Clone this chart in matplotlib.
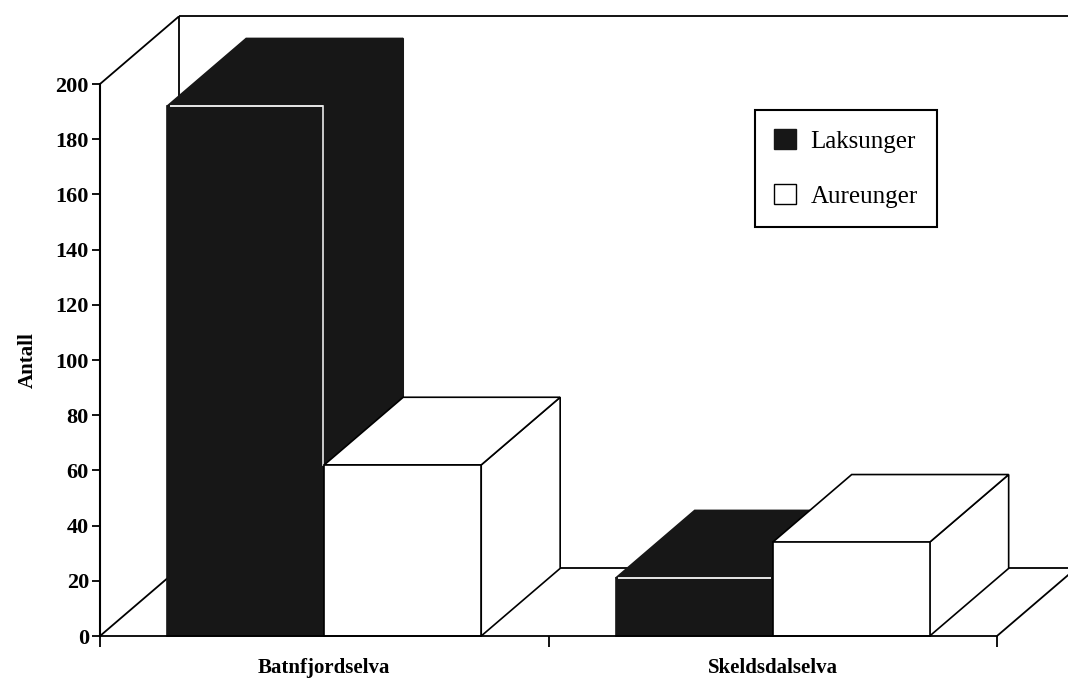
import matplotlib
matplotlib.use('Agg')
import matplotlib.pyplot as plt
from matplotlib.patches import Polygon, Rectangle, Patch

# counts of juvenile fish per river
categories = ['Batnfjordselva', 'Skeldsdalselva']
series = ['Laksunger', 'Aureunger']
laksunger = [192, 21]
aureunger = [62, 34]
yticks = list(range(0, 201, 20))

plt.rcParams['font.family'] = ['Liberation Serif', 'DejaVu Serif']
plt.rcParams['font.weight'] = 'bold'

dark = '#171717'
dx = 0.176     # depth offset, category units
dy = 24.5      # depth offset, value units
bw = 0.35      # bar width
ytop = 200

fig = plt.figure(figsize=(10.68, 6.81), dpi=100)
ax = fig.add_axes([100/1068, 45/681, 897/1068, 552/681])
ax.set_xlim(0, len(categories))
ax.set_ylim(0, ytop)


def seg(xs, ys, color='black', lw=1.3, z=1):
    ax.plot(xs, ys, color=color, lw=lw, clip_on=False,
            solid_capstyle='butt', zorder=z)


# side wall, back wall and floor outline
n = len(categories)
seg([0, dx], [ytop, ytop + dy])
seg([dx, dx], [dy, ytop + dy])
seg([dx, n + dx + 0.2], [ytop + dy, ytop + dy])
seg([0, dx], [0, dy])
seg([dx, n + dx], [dy, dy])
seg([n, n + dx], [0, dy])


def bar3d(x0, x1, h, face, edge, z):
    side = Polygon([(x1, 0), (x1 + dx, dy), (x1 + dx, h + dy), (x1, h)])
    top = Polygon([(x0, h), (x1, h), (x1 + dx, h + dy), (x0 + dx, h + dy)])
    front = Rectangle((x0, 0), x1 - x0, h)
    for p in (side, top, front):
        p.set_facecolor(face)
        p.set_edgecolor(edge)
        p.set_linewidth(1.2)
        p.set_clip_on(False)
        p.set_zorder(z)
        ax.add_patch(p)


z = 2
for i, cat in enumerate(categories):
    c = i + 0.5
    # salmon bar (dark) then trout bar (white) to its right
    h = laksunger[i]
    bar3d(c - bw, c, h, dark, dark, z)
    ax.plot([c - bw + 0.008, c - 0.006], [h, h], color='#e8e8e8', lw=1.4,
            clip_on=False, zorder=z + 0.5)
    if h > aureunger[i]:
        ax.plot([c - 0.003, c - 0.003], [h, aureunger[i]], color='#e8e8e8',
                lw=1.2, clip_on=False, zorder=z + 0.5)
    z += 1
    bar3d(c, c + bw, aureunger[i], 'white', 'black', z)
    z += 1

for s in ('top', 'right'):
    ax.spines[s].set_visible(False)
ax.spines['left'].set_linewidth(1.5)
ax.spines['bottom'].set_linewidth(1.3)
ax.spines['left'].set_zorder(z)
ax.spines['bottom'].set_zorder(z)

ax.set_yticks(yticks)
ax.set_yticklabels([str(t) for t in yticks])
ax.tick_params(axis='y', direction='out', length=6, width=1.3, pad=2,
               labelsize=16)
ax.set_xticks(range(n + 1))
ax.set_xticklabels([])
ax.tick_params(axis='x', which='major', direction='out', length=8, width=1.3)
ax.set_xticks([i + 0.5 for i in range(n)], minor=True)
ax.set_xticklabels(categories, minor=True)
ax.tick_params(axis='x', which='minor', length=0, pad=16, labelsize=15)

ax.set_ylabel('Antall', fontsize=15, fontweight='bold')
ax.yaxis.set_label_coords(-0.069, 0.50)

handles = [Patch(facecolor=dark, edgecolor=dark),
           Patch(facecolor='white', edgecolor='black')]
leg = ax.legend(handles, series, loc='upper left',
                bbox_to_anchor=(0.730, 0.953), borderaxespad=0,
                frameon=True, fancybox=False, edgecolor='black',
                framealpha=1, handlelength=0.85, handleheight=0.85,
                handletextpad=0.6, borderpad=0.78, labelspacing=1.25,
                prop=dict(size=18, weight='normal'))
leg.get_frame().set_linewidth(1.5)
leg.set_zorder(z + 1)

fig.savefig('out.png', dpi=100, facecolor='white')
